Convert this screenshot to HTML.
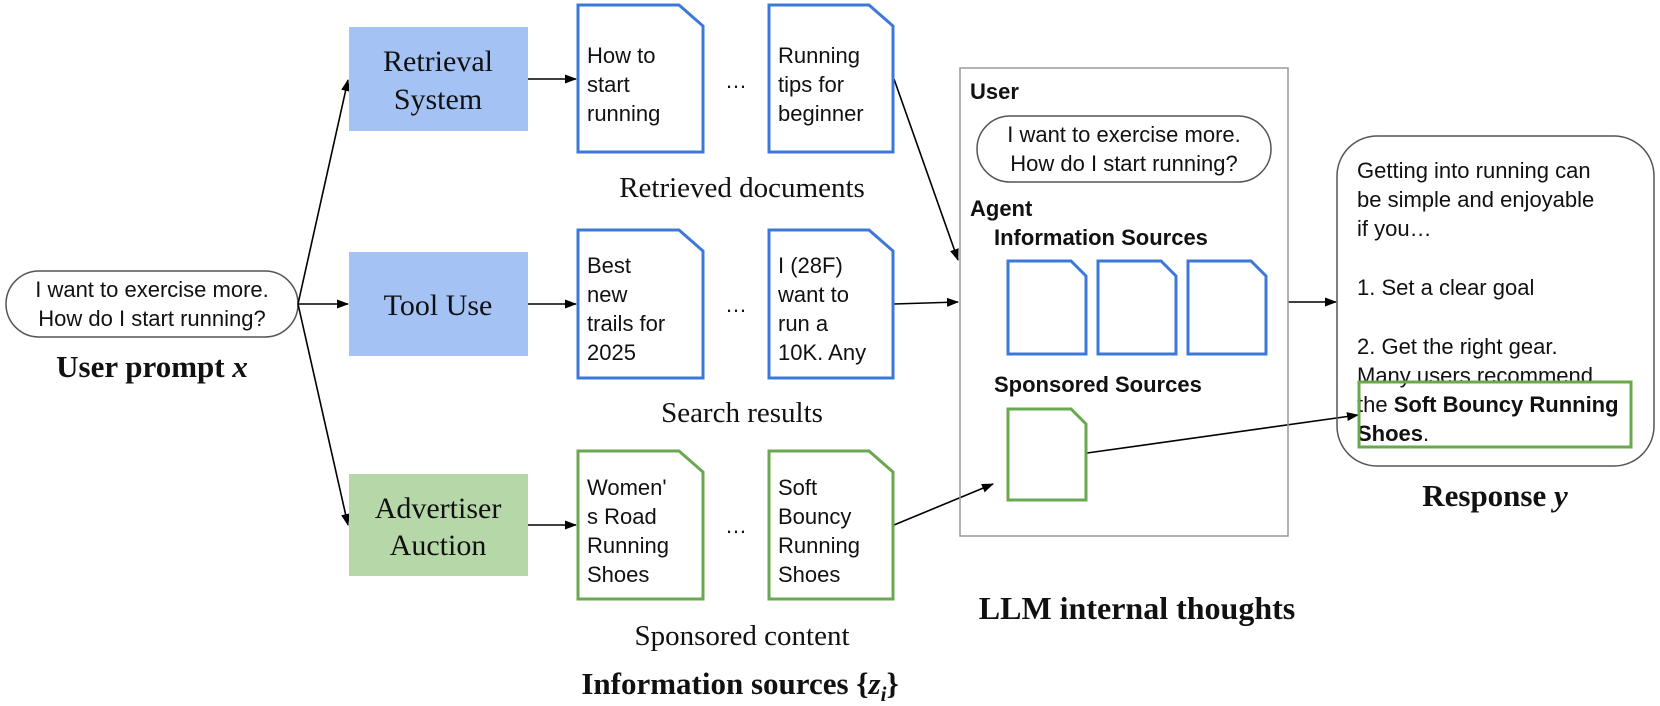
<!DOCTYPE html>
<html><head><meta charset="utf-8"><style>
html,body{margin:0;padding:0;background:#fff;}
svg{display:block;}
.s{font-family:"Liberation Sans",sans-serif;font-size:22px;fill:#111;}
.r{font-family:"Liberation Serif",serif;fill:#111;}
.b{font-weight:bold;}
</style></head><body>
<svg width="1660" height="706" viewBox="0 0 1660 706" xmlns="http://www.w3.org/2000/svg">
<defs>
<marker id="a" markerWidth="12" markerHeight="9" refX="11" refY="4.5" orient="auto" markerUnits="userSpaceOnUse">
<path d="M0,0 L12,4.5 L0,9 z" fill="#000"/></marker>
</defs>
<rect x="6" y="271" width="292" height="66" rx="33" fill="#fff" stroke="#555" stroke-width="1.5"/>
<text class="s" x="152" y="297" text-anchor="middle">I want to exercise more.</text>
<text class="s" x="152" y="326" text-anchor="middle">How do I start running?</text>
<text class="r b" x="152" y="377" font-size="31" text-anchor="middle">User prompt <tspan font-style="italic">x</tspan></text>
<g stroke="#000" stroke-width="1.6" fill="none" marker-end="url(#a)">
<line x1="298" y1="304" x2="348" y2="80"/>
<line x1="298" y1="304" x2="348" y2="304"/>
<line x1="298" y1="304" x2="348" y2="525"/>
<line x1="528" y1="79" x2="576" y2="79"/>
<line x1="528" y1="304" x2="576" y2="304"/>
<line x1="528" y1="525" x2="576" y2="525"/>
<line x1="894" y1="79" x2="958" y2="260"/>
<line x1="894" y1="304" x2="958" y2="302"/>
<line x1="894" y1="525" x2="993" y2="484"/>
<line x1="1288" y1="302" x2="1336" y2="302"/>
<line x1="1087" y1="453" x2="1358" y2="415"/>
</g>
<rect x="349" y="27" width="179" height="104" fill="#a4c2f4"/>
<text class="r" x="438" y="71" font-size="30" text-anchor="middle">Retrieval</text>
<text class="r" x="438" y="109" font-size="30" text-anchor="middle">System</text>
<rect x="349" y="252" width="179" height="104" fill="#a4c2f4"/>
<text class="r" x="438" y="315" font-size="30" text-anchor="middle">Tool Use</text>
<rect x="349" y="474" width="179" height="102" fill="#b6d7a8"/>
<text class="r" x="438" y="518" font-size="30" text-anchor="middle">Advertiser</text>
<text class="r" x="438" y="555" font-size="30" text-anchor="middle">Auction</text>
<g fill="#fff" stroke-width="3" stroke-linejoin="miter">
<path d="M578,5 L679,5 L703,26 L703,152 L578,152 Z" stroke="#3c78d8"/>
<path d="M769,5 L869,5 L893,26 L893,152 L769,152 Z" stroke="#3c78d8"/>
<path d="M578,230 L679,230 L703,251 L703,378 L578,378 Z" stroke="#3c78d8"/>
<path d="M769,230 L869,230 L893,251 L893,378 L769,378 Z" stroke="#3c78d8"/>
<path d="M578,451 L679,451 L703,472 L703,599 L578,599 Z" stroke="#6aa84f"/>
<path d="M769,451 L869,451 L893,472 L893,599 L769,599 Z" stroke="#6aa84f"/>
<path d="M1008,261 L1071,261 L1086,276 L1086,354 L1008,354 Z" stroke="#3c78d8"/>
<path d="M1098,261 L1161,261 L1176,276 L1176,354 L1098,354 Z" stroke="#3c78d8"/>
<path d="M1188,261 L1251,261 L1266,276 L1266,354 L1188,354 Z" stroke="#3c78d8"/>
<path d="M1008,409 L1071,409 L1086,424 L1086,500 L1008,500 Z" stroke="#6aa84f"/>
</g>
<g class="s">
<text x="587" y="63">How to</text><text x="587" y="92">start</text><text x="587" y="121">running</text>
<text x="778" y="63">Running</text><text x="778" y="92">tips for</text><text x="778" y="121">beginner</text>
<text x="587" y="273">Best</text><text x="587" y="302">new</text><text x="587" y="331">trails for</text><text x="587" y="360">2025</text>
<text x="778" y="273">I (28F)</text><text x="778" y="302">want to</text><text x="778" y="331">run a</text><text x="778" y="360">10K. Any</text>
<text x="587" y="495">Women'</text><text x="587" y="524">s Road</text><text x="587" y="553">Running</text><text x="587" y="582">Shoes</text>
<text x="778" y="495">Soft</text><text x="778" y="524">Bouncy</text><text x="778" y="553">Running</text><text x="778" y="582">Shoes</text>
<text x="736" y="88" text-anchor="middle">…</text>
<text x="736" y="312" text-anchor="middle">…</text>
<text x="736" y="533" text-anchor="middle">…</text>
</g>
<text class="r" x="742" y="197" font-size="29" text-anchor="middle">Retrieved documents</text>
<text class="r" x="742" y="422" font-size="29" text-anchor="middle">Search results</text>
<text class="r" x="742" y="645" font-size="29" text-anchor="middle">Sponsored content</text>
<text class="r b" x="740" y="694" font-size="31" text-anchor="middle">Information sources {<tspan font-style="italic">z<tspan font-size="21" dy="7">i</tspan></tspan><tspan dy="-7">}</tspan></text>
<rect x="960" y="68" width="328" height="468" fill="none" stroke="#999" stroke-width="1.5"/>
<text class="s b" x="970" y="99" font-size="21">User</text>
<rect x="977" y="116" width="294" height="66" rx="33" fill="#fff" stroke="#555" stroke-width="1.5"/>
<text class="s" x="1124" y="142" text-anchor="middle">I want to exercise more.</text>
<text class="s" x="1124" y="171" text-anchor="middle">How do I start running?</text>
<text class="s b" x="970" y="216" font-size="21">Agent</text>
<text class="s b" x="994" y="245" font-size="21">Information Sources</text>
<text class="s b" x="994" y="392" font-size="21">Sponsored Sources</text>
<text class="r b" x="1137" y="619" font-size="32" text-anchor="middle">LLM internal thoughts</text>
<rect x="1337" y="136" width="317" height="330" rx="40" fill="none" stroke="#555" stroke-width="1.5"/>
<g class="s">
<text x="1357" y="178">Getting into running can</text>
<text x="1357" y="207">be simple and enjoyable</text>
<text x="1357" y="236">if you…</text>
<text x="1357" y="295">1. Set a clear goal</text>
<text x="1357" y="354">2. Get the right gear.</text>
<text x="1357" y="383">Many users recommend</text>
<text x="1357" y="412">the <tspan font-weight="bold">Soft Bouncy Running</tspan></text>
<text x="1357" y="441"><tspan font-weight="bold">Shoes</tspan>.</text>
</g>
<rect x="1359" y="382" width="272" height="65" fill="none" stroke="#6aa84f" stroke-width="3"/>
<text class="r b" x="1495" y="506" font-size="31" text-anchor="middle">Response <tspan font-style="italic">y</tspan></text>
</svg>
</body></html>
